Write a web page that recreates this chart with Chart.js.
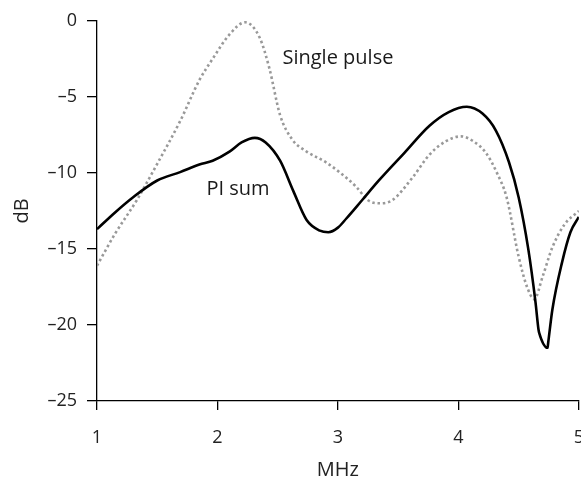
<!DOCTYPE html>
<html>
<head>
<meta charset="utf-8">
<script src="https://cdn.jsdelivr.net/npm/chart.js@4/dist/chart.umd.min.js"></script>
<style>
    html, body { margin: 0; padding: 0; background: #fff; overflow: hidden; width: 581px; height: 480px; }
    #wrap { width: 581px; height: 480px; overflow: hidden; }
</style>
</head>
<body>
<div id="wrap"><canvas id="chart" width="601" height="480"></canvas></div>
<script>
// frequency (MHz) and level (dB)
let piFreq = [1.00, 1.15, 1.30, 1.50, 1.69, 1.85, 1.96, 2.10, 2.20, 2.31, 2.40, 2.52, 2.63, 2.74, 2.85, 2.92,
    3.00, 3.07, 3.20, 3.34, 3.55, 3.76, 3.92, 4.07, 4.20, 4.31, 4.42, 4.50, 4.58, 4.64, 4.665, 4.67, 4.74, 4.745, 4.78, 4.86, 4.93, 5.00];
let piDb = [-13.7, -12.6, -11.6, -10.5, -9.95, -9.45, -9.2, -8.6, -8.0, -7.7, -8.0, -9.2, -11.2, -13.1, -13.8, -13.9,
    -13.6, -13.0, -11.8, -10.5, -8.7, -6.9, -6.0, -5.65, -6.1, -7.2, -9.3, -11.6, -15.0, -18.5, -20.3, -20.5, -21.5, -21.2, -19.0, -15.9, -13.9, -12.9];

let spFreq = [1.00, 1.15, 1.33, 1.50, 1.69, 1.85, 1.96, 2.10, 2.23, 2.35, 2.43, 2.52, 2.62, 2.74, 2.90, 3.02, 3.15,
    3.25, 3.34, 3.45, 3.62, 3.76, 3.90, 4.02, 4.12, 4.23, 4.32, 4.40, 4.50, 4.57, 4.63, 4.70, 4.78, 4.88, 5.00];
let spDb = [-16.1, -14.0, -11.8, -9.4, -6.6, -3.9, -2.5, -0.9, -0.1, -1.1, -3.1, -6.2, -7.8, -8.6, -9.3, -10.0, -10.9,
    -11.8, -12.0, -11.8, -10.3, -8.8, -7.9, -7.6, -7.9, -8.7, -10.0, -11.6, -15.5, -17.5, -18.3, -16.8, -14.9, -13.4, -12.5];

let seriesLabels = ["PI sum", "Single pulse"];
// where the curve names sit, in data units
let labelPos = [{ x: 2.17, y: -11.1 }, { x: 3.0, y: -2.45 }];

const FONT = "'Open Sans', 'DejaVu Sans', sans-serif";

function toPoints(xs, ys) {
    return xs.map((x, i) => ({ x: x, y: ys[i] }));
}

const curveLabels = {
    id: 'curveLabels',
    afterDatasetsDraw(chart) {
        let ctx = chart.ctx;
        let sx = chart.scales.x, sy = chart.scales.y;
        ctx.save();
        ctx.font = "20px " + FONT;
        ctx.fillStyle = "#1a1a1a";
        ctx.textAlign = "center";
        ctx.textBaseline = "middle";
        seriesLabels.forEach((name, i) => {
            ctx.fillText(name, sx.getPixelForValue(labelPos[i].x), sy.getPixelForValue(labelPos[i].y));
        });
        ctx.restore();
    }
};

new Chart(document.getElementById('chart').getContext('2d'), {
    type: 'line',
    data: {
        datasets: [
            {
                label: seriesLabels[0],
                data: toPoints(piFreq, piDb),
                borderColor: "#000",
                borderWidth: 2.6,
                pointRadius: 0,
                fill: false,
                cubicInterpolationMode: 'monotone',
            },
            {
                label: seriesLabels[1],
                data: toPoints(spFreq, spDb),
                borderColor: "#999",
                borderWidth: 2.6,
                borderDash: [2.5, 2.8],
                pointRadius: 0,
                fill: false,
                cubicInterpolationMode: 'monotone',
            },
        ]
    },
    options: {
        responsive: false,
        animation: false,
        layout: { padding: { top: 20, left: 0, right: 0, bottom: 0 } },
        plugins: {
            legend: { display: false },
            tooltip: { enabled: false },
        },
        scales: {
            x: {
                type: 'linear',
                min: 1,
                max: 5,
                border: { color: "#000", width: 1.3 },
                grid: { drawOnChartArea: false, tickLength: 9, color: "#000", lineWidth: 1.3 },
                ticks: { stepSize: 1, padding: 17, color: "#222", font: { family: FONT, size: 18 } },
                title: { display: true, text: "MHz", color: "#222", font: { family: FONT, size: 20, lineHeight: 1.0 },
                    padding: { top: 0, bottom: 0 } },
                afterFit: function (scale) { scale.height = 79; },
            },
            y: {
                min: -25,
                max: 0,
                border: { color: "#000", width: 1.3 },
                grid: { drawOnChartArea: false, tickLength: 10, color: "#000", lineWidth: 1.3 },
                ticks: { stepSize: 5, padding: 10, color: "#222", font: { family: FONT, size: 18 },
                    callback: v => v < 0 ? '\u2013' + Math.abs(v) : v },
                title: { display: true, text: "dB", color: "#222", font: { family: FONT, size: 20 },
                    padding: { top: 10, bottom: 0 } },
                afterFit: function (scale) { scale.width = 97; },
            }
        }
    },
    plugins: [curveLabels]
});
</script>
</body>
</html>
